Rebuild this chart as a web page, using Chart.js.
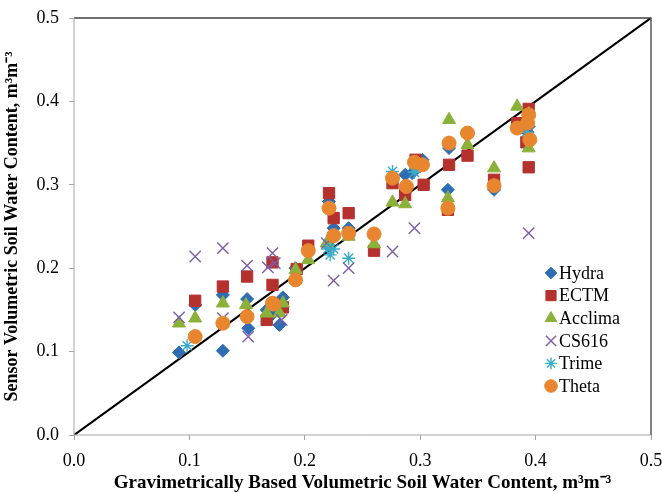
<!DOCTYPE html>
<html>
<head>
<meta charset="utf-8">
<script src="https://cdn.jsdelivr.net/npm/chart.js@4/dist/chart.umd.min.js"></script>
<style>
    html, body { margin: 0; padding: 0; background: #fff; }
    #wrap { width: 662px; height: 494px; position: relative; }
</style>
</head>
<body>
<div id="wrap"><canvas id="myChart" width="662" height="494"></canvas></div>
<script>
const seriesNames = ['Hydra', 'ECTM', 'Acclima', 'CS616', 'Trime', 'Theta'];
const xTicks = [0.0, 0.1, 0.2, 0.3, 0.4, 0.5];
const yTicks = [0.0, 0.1, 0.2, 0.3, 0.4, 0.5];
const oneToOne = [[0, 0], [0.5, 0.5]];

// [gravimetric, sensor]
const hydra = [
    [0.091, 0.099], [0.105, 0.156], [0.129, 0.101], [0.129, 0.168], [0.150, 0.163],
    [0.151, 0.128], [0.167, 0.150], [0.172, 0.145], [0.178, 0.132], [0.181, 0.165],
    [0.192, 0.200], [0.221, 0.280], [0.225, 0.248], [0.220, 0.228], [0.238, 0.248],
    [0.287, 0.312], [0.293, 0.314], [0.302, 0.330], [0.325, 0.344], [0.324, 0.294],
    [0.341, 0.360], [0.364, 0.294], [0.393, 0.363], [0.394, 0.370]
];
const ectm = [
    [0.105, 0.161], [0.129, 0.178], [0.150, 0.190], [0.172, 0.207], [0.172, 0.180],
    [0.167, 0.138], [0.181, 0.153], [0.193, 0.199], [0.203, 0.227], [0.221, 0.290],
    [0.225, 0.260], [0.238, 0.266], [0.260, 0.221], [0.276, 0.302], [0.287, 0.288],
    [0.296, 0.330], [0.303, 0.300], [0.325, 0.324], [0.324, 0.270], [0.341, 0.335],
    [0.364, 0.306], [0.384, 0.374], [0.394, 0.391], [0.392, 0.351], [0.394, 0.321]
];
const acclima = [
    [0.091, 0.134], [0.105, 0.140], [0.129, 0.158], [0.149, 0.156], [0.167, 0.146],
    [0.178, 0.146], [0.181, 0.158], [0.192, 0.198], [0.203, 0.210], [0.219, 0.230],
    [0.238, 0.238], [0.260, 0.229], [0.276, 0.279], [0.287, 0.277], [0.325, 0.378],
    [0.324, 0.284], [0.341, 0.348], [0.364, 0.320], [0.384, 0.394], [0.394, 0.385],
    [0.394, 0.344]
];
const cs616 = [
    [0.091, 0.141], [0.105, 0.214], [0.129, 0.224], [0.129, 0.140], [0.150, 0.203],
    [0.151, 0.118], [0.168, 0.201], [0.172, 0.218], [0.174, 0.206], [0.180, 0.138],
    [0.219, 0.230], [0.225, 0.185], [0.238, 0.200], [0.276, 0.220], [0.295, 0.248],
    [0.394, 0.242]
];
const trime = [
    [0.098, 0.107], [0.220, 0.223], [0.225, 0.223], [0.222, 0.216], [0.238, 0.212],
    [0.276, 0.316], [0.296, 0.320], [0.295, 0.315], [0.392, 0.363]
];
const theta = [
    [0.105, 0.118], [0.129, 0.134], [0.150, 0.142], [0.172, 0.158], [0.173, 0.157],
    [0.192, 0.186], [0.203, 0.221], [0.221, 0.272], [0.225, 0.239], [0.238, 0.242],
    [0.260, 0.241], [0.276, 0.308], [0.288, 0.298], [0.295, 0.327], [0.302, 0.324],
    [0.324, 0.272], [0.325, 0.350], [0.341, 0.362], [0.364, 0.299], [0.384, 0.368],
    [0.394, 0.384], [0.393, 0.374], [0.395, 0.354]
];

const seriesData = [hydra, ectm, acclima, cs616, trime, theta];
const colors = ['#2e6db4', '#b5312e', '#8cb13a', '#7b5ea8', '#3aabc9', '#e8862f'];
const styles = ['rectRot', 'rect', 'triangle', 'crossRot', 'star', 'circle'];
const radii = [6.5, 8, 7.5, 8, 6.5, 7];

const serif = "'Liberation Serif', 'Times New Roman', serif";

function toPoints(arr) {
    return arr.map(p => ({ x: p[0], y: p[1] }));
}

function noOverhang(axis) {
    axis.paddingLeft = 0;
    axis.paddingRight = 0;
    axis.paddingTop = 0;
    axis.paddingBottom = 0;
}

const datasets = seriesNames.map((name, i) => ({
    label: name,
    data: toPoints(seriesData[i]),
    pointStyle: styles[i],
    pointRadius: radii[i],
    pointHoverRadius: radii[i],
    backgroundColor: colors[i],
    borderColor: colors[i],
    pointBorderWidth: (styles[i] === 'crossRot' || styles[i] === 'star') ? 1.4 : 1,
    showLine: false,
    order: seriesNames.length - i
}));

datasets.push({
    label: '1:1',
    type: 'line',
    data: toPoints(oneToOne),
    borderColor: '#000',
    borderWidth: 2.2,
    pointRadius: 0,
    fill: false,
    order: 10
});

// frame around the plot and legend inside it
const framePlugin = {
    id: 'frame',
    afterDraw(chart) {
        const a = chart.chartArea;
        const ctx = chart.ctx;
        ctx.save();
        ctx.strokeStyle = '#404040';
        ctx.lineWidth = 1.3;
        ctx.beginPath();
        ctx.moveTo(a.left, a.top);
        ctx.lineTo(a.right, a.top);
        ctx.lineTo(a.right, a.bottom);
        ctx.stroke();
        ctx.strokeStyle = '#a6a6a6';
        ctx.lineWidth = 1;
        ctx.beginPath();
        ctx.moveTo(a.left, a.top);
        ctx.lineTo(a.left, a.bottom);
        ctx.lineTo(a.right, a.bottom);
        ctx.stroke();

        // legend
        ctx.font = '18px ' + serif;
        ctx.textBaseline = 'middle';
        ctx.textAlign = 'left';
        const x0 = 551;
        const y0 = 273;
        const step = 22.6;
        seriesNames.forEach((name, i) => {
            const y = y0 + i * step;
            ctx.fillStyle = colors[i];
            ctx.strokeStyle = colors[i];
            ctx.lineWidth = (styles[i] === 'crossRot' || styles[i] === 'star') ? 1.4 : 1;
            Chart.helpers.drawPoint(ctx, { pointStyle: styles[i], radius: radii[i] * 0.9, rotation: 0, borderWidth: ctx.lineWidth }, x0, y);
            ctx.fillStyle = '#000';
            ctx.fillText(name, x0 + 8, y + 1);
        });
        ctx.restore();
    }
};

const ctx = document.getElementById('myChart').getContext('2d');
const myChart = new Chart(ctx, {
    type: 'scatter',
    data: { datasets: datasets },
    options: {
        responsive: false,
        animation: false,
        layout: { padding: { top: 18, right: 11, left: 0, bottom: 0 } },
        plugins: {
            legend: { display: false },
            tooltip: { enabled: false }
        },
        scales: {
            x: {
                type: 'linear',
                min: 0,
                max: 0.5,
                afterBuildTicks: axis => { axis.ticks = xTicks.map(v => ({ value: v })); },
                afterFit: axis => { axis.height = 59; noOverhang(axis); },
                ticks: {
                    font: { family: serif, size: 18 },
                    color: '#000',
                    padding: 10,
                    maxRotation: 0,
                    callback: v => v.toFixed(1)
                },
                grid: { drawOnChartArea: false, drawTicks: true, tickLength: 5, color: '#a6a6a6' },
                border: { display: false },
                title: {
                    display: true,
                    text: 'Gravimetrically Based Volumetric Soil Water Content, m³m⁻³',
                    font: { family: serif, size: 19, weight: 'bold' },
                    color: '#000',
                    padding: { top: 2, bottom: 0 }
                }
            },
            y: {
                type: 'linear',
                min: 0,
                max: 0.5,
                afterBuildTicks: axis => { axis.ticks = yTicks.map(v => ({ value: v })); },
                afterFit: axis => { axis.width = 74; noOverhang(axis); },
                ticks: {
                    font: { family: serif, size: 18 },
                    color: '#000',
                    padding: 10,
                    callback: v => v.toFixed(1)
                },
                grid: { drawOnChartArea: false, drawTicks: true, tickLength: 5, color: '#a6a6a6' },
                border: { display: false },
                title: {
                    display: true,
                    text: 'Sensor Volumetric Soil Water Content, m³m⁻³',
                    font: { family: serif, size: 18, weight: 'bold' },
                    color: '#000',
                    padding: { top: 2, bottom: 2 }
                }
            }
        }
    },
    plugins: [framePlugin]
});
</script>
</body>
</html>
